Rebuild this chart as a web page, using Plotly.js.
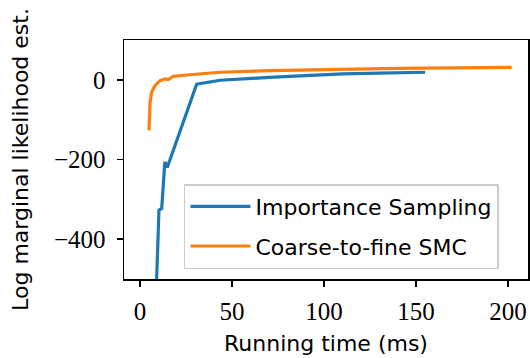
<!DOCTYPE html>
<html>
<head>
<meta charset="utf-8">
<script src="https://cdn.plot.ly/plotly-3.0.1.min.js"></script>
<style>html,body{margin:0;padding:0;background:#fff;}#chart{width:530px;height:358px;}</style>
</head>
<body>
<div id="chart"></div>
<script>
// Importance Sampling
const isTime = [8.7, 9.05, 10.3, 11.8, 13.5, 14.8, 30.8, 43.5, 70, 90, 110, 130, 155];
const isLogML = [-700, -500, -327, -323, -206, -220, -11, -1, 6, 11, 15, 17, 19];
// Coarse-to-fine SMC
const smcTime = [4.9, 5.4, 6.3, 8.2, 10.9, 13.6, 15.4, 18.1, 30, 43.5, 70, 100, 140, 170, 202];
const smcLogML = [-127, -60, -31, -14, -2, 2.5, 0.7, 9, 14, 19, 23, 26, 29, 30, 31.5];
const seriesNames = ["Importance Sampling", "Coarse-to-fine SMC"];
const xTicks = [0, 50, 100, 150, 200];
const yTicks = [-400, -200, 0];
const yTickText = ["\u2212400", "\u2212200", "0"];

const traces = [
  {x: isTime, y: isLogML, name: seriesNames[0], mode: "lines", legendgroup: "a",
   line: {color: "#1f77b4", width: 3.2}},
  {x: smcTime, y: smcLogML, name: seriesNames[1], mode: "lines", legendgroup: "b",
   line: {color: "#ff7f0e", width: 3.2}}
];

const tickFont = {family: "Liberation Serif, serif", size: 25, color: "#000"};
const labFont = {family: "DejaVu Sans, sans-serif", size: 22, color: "#000"};

const layout = {
  width: 530, height: 358,
  margin: {l: 124, r: 2, t: 40, b: 79, pad: 0},
  paper_bgcolor: "#fff", plot_bgcolor: "#fff",
  showlegend: true,
  xaxis: {
    range: [-8.7, 210.9], tickvals: xTicks, ticktext: xTicks.map(String),
    showgrid: false, zeroline: false, showline: true, mirror: true,
    linecolor: "#000", linewidth: 1.5, ticks: "outside", ticklen: 6, tickwidth: 1.5,
    tickcolor: "#000", tickfont: tickFont, ticklabelstandoff: 3,
    title: {text: "Running time (ms)", font: labFont, standoff: 12}
  },
  yaxis: {
    range: [-500, 100], tickvals: yTicks, ticktext: yTickText,
    showgrid: false, zeroline: false, showline: true, mirror: true,
    linecolor: "#000", linewidth: 1.5, ticks: "outside", ticklen: 6, tickwidth: 1.5,
    tickcolor: "#000", tickfont: tickFont, ticklabelstandoff: 6,
    title: {text: "Log marginal likelihood est.", font: labFont, standoff: 19}
  },
  legend: {
    x: 0.1485, y: 0.397, xanchor: "left", yanchor: "top",
    bgcolor: "rgba(255,255,255,0.8)", bordercolor: "#cccccc", borderwidth: 1.5,
    font: labFont, itemwidth: 60, tracegroupgap: 8
  }
};

Plotly.newPlot("chart", traces, layout, {staticPlot: true, displayModeBar: false});
</script>
</body>
</html>
